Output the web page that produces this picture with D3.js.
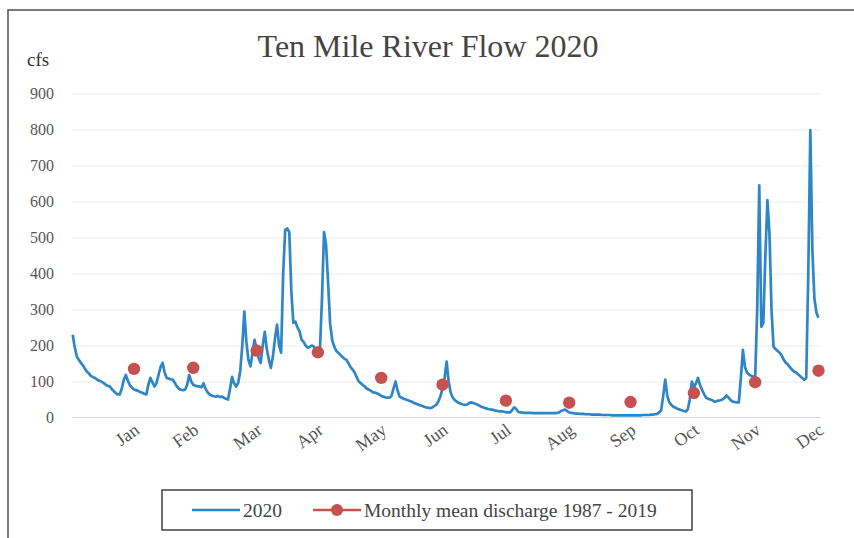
<!DOCTYPE html>
<html><head><meta charset="utf-8">
<script src="https://cdn.jsdelivr.net/npm/d3@7"></script>
<style>
body{margin:0;background:#fff;}
svg{display:block;}
text{font-family:"Liberation Serif","DejaVu Serif",serif;}
</style></head>
<body><svg id="c" width="854" height="538"></svg>
<script>
const title = "Ten Mile River Flow 2020";
const unitLabel = "cfs";
const monthLabels = ["Jan","Feb","Mar","Apr","May","Jun","Jul","Aug","Sep","Oct","Nov","Dec"];
const yTicks = [0,100,200,300,400,500,600,700,800,900];
const monthlyMean = [135,138,186,181,110,91,47,41,43,68,98,130];
const seriesName = "2020";
const meanName = "Monthly mean discharge 1987 - 2019";
// daily flow 2020, by month
const jan = [230,195,170,160,152,145,135,127,122,115,112,110,105,102,100,96,92,88,87,80,74,68,64,64,80,105,118,102,90,83,78];
const feb = [76,74,71,69,66,64,90,110,98,86,95,118,140,152,125,110,108,106,105,96,86,80,77,76,77,90,118,100,91];
const mar = [88,87,86,84,95,80,70,64,61,59,58,60,57,58,55,52,50,80,113,95,86,96,130,200,294,210,160,142,180,216,188];
const apr = [165,152,200,238,190,160,138,170,220,258,200,180,400,521,525,515,350,263,266,250,240,216,210,200,194,196,200,197,188,183];
const may = [190,330,515,480,374,260,215,197,185,180,174,168,163,160,150,140,133,125,112,100,95,90,86,80,77,74,70,69,67,64,60];
const jun = [58,56,55,55,60,80,100,75,58,55,52,50,48,46,44,40,38,36,34,32,30,28,27,26,28,32,36,45,60,80];
const jul = [110,155,100,69,55,48,44,40,38,36,35,36,40,42,40,38,36,33,30,28,26,24,23,22,21,19,18,17,17,16,15];
const aug = [14,14,20,28,24,16,14,14,13,13,13,13,12,12,12,12,12,12,12,12,12,12,12,12,13,14,18,20,22,18,14];
const sep = [13,12,11,11,10,10,10,9,9,9,8,8,8,8,8,7,7,7,7,7,6,6,6,6,6,6,6,6,6,6];
const oct = [6,6,6,6,6,7,7,7,7,8,8,9,10,14,20,60,105,60,42,35,30,27,24,22,20,18,17,22,50,100,83];
const nov = [95,110,90,77,65,55,52,50,48,44,45,47,48,50,55,61,55,48,44,43,42,42,110,188,140,125,119,116,114,110];
const dec = [300,645,252,263,450,604,512,300,197,190,185,180,172,160,152,147,140,133,128,125,120,115,110,105,110,400,798,465,330,291,277];

const flow = [jan,feb,mar,apr,may,jun,jul,aug,sep,oct,nov,dec].flat();
const start = new Date(2020,0,1);
const daily = flow.map((v,i)=>({date:d3.timeDay.offset(start,i), v}));
const monthEnds = d3.range(12).map(m=>new Date(2020,m+1,0));
const meanPts = monthlyMean.map((v,i)=>({date:monthEnds[i], v}));

const svg = d3.select("#c");
const x = d3.scaleTime().domain([start,new Date(2020,11,31)]).range([72.7,818.5]);
const y = d3.scaleLinear().domain([0,900]).range([417.5,93.5]);

// frame
svg.append("rect").attr("x",8).attr("y",10).attr("width",860).attr("height",540)
  .attr("fill","none").attr("stroke","#5a5a5a").attr("stroke-width",1.6);

// gridlines
svg.append("g").attr("transform","translate(72,0)")
  .call(d3.axisLeft(y).tickValues(yTicks.slice(1)).tickSize(-748).tickFormat(""))
  .call(g=>g.select(".domain").remove())
  .call(g=>g.selectAll("line").attr("stroke","#ececec").attr("stroke-width",1));

// y labels
svg.append("g").attr("transform","translate(54,0)")
  .call(d3.axisLeft(y).tickValues(yTicks).tickSize(0).tickPadding(0))
  .call(g=>g.select(".domain").remove())
  .call(g=>g.selectAll("text").attr("font-size",16).attr("fill","#555")
     .style("font-family","'Liberation Serif',serif"));

// baseline
svg.append("line").attr("x1",72).attr("x2",820).attr("y1",y(0)).attr("y2",y(0))
  .attr("stroke","#d6d6d6").attr("stroke-width",1.2);

// x labels
svg.append("g").attr("transform",`translate(0,${y(0)})`)
  .call(d3.axisBottom(x).tickValues(monthEnds).tickSize(0).tickFormat((d,i)=>monthLabels[i]))
  .call(g=>g.select(".domain").remove())
  .call(g=>g.selectAll("text").attr("font-size",18).attr("fill","#555")
     .style("font-family","'Liberation Serif',serif")
     .attr("text-anchor","end").attr("dy",0).attr("y",0)
     .attr("transform","translate(6,15) rotate(-36)"));

// line
svg.append("path").datum(daily)
  .attr("d",d3.line().x(d=>x(d.date)).y(d=>y(d.v)))
  .attr("fill","none").attr("stroke","#2f86c6").attr("stroke-width",2.7)
  .attr("stroke-linejoin","round");

// mean dots
svg.append("g").selectAll("circle").data(meanPts).join("circle")
  .attr("cx",d=>x(d.date)).attr("cy",d=>y(d.v)).attr("r",6.2).attr("fill","#c5524f");

// title
svg.append("text").attr("x",428).attr("y",57).attr("text-anchor","middle")
  .attr("font-size",32).attr("fill","#444").text(title);
svg.append("text").attr("x",27).attr("y",66).attr("font-size",19).attr("fill","#333").text(unitLabel);

// legend
const lg = svg.append("g");
lg.append("rect").attr("x",162).attr("y",490).attr("width",530).attr("height",40)
  .attr("fill","#fff").attr("stroke","#333").attr("stroke-width",1.4);
lg.append("line").attr("x1",192).attr("x2",240).attr("y1",510).attr("y2",510)
  .attr("stroke","#2f86c6").attr("stroke-width",2.6);
lg.append("text").attr("x",243).attr("y",517).attr("font-size",19.5).attr("fill","#444").text(seriesName);
lg.append("line").attr("x1",313).attr("x2",361).attr("y1",510).attr("y2",510)
  .attr("stroke","#c5524f").attr("stroke-width",2.6);
lg.append("circle").attr("cx",337).attr("cy",510).attr("r",6).attr("fill","#c5524f");
lg.append("text").attr("x",364).attr("y",517).attr("font-size",19.5).attr("fill","#444").text(meanName);
</script></body></html>
